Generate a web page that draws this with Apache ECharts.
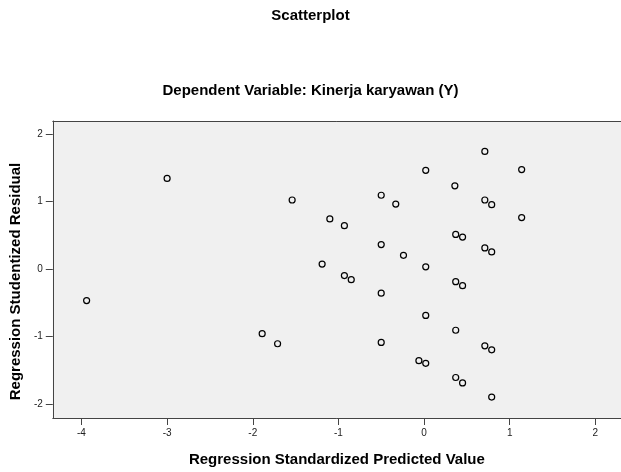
<!DOCTYPE html>
<html>
<head>
<meta charset="utf-8">
<script src="https://cdn.jsdelivr.net/npm/echarts@6/dist/echarts.min.js"></script>
<style>
  html, body { margin: 0; padding: 0; background: #fff; }
  #scatter { width: 621px; height: 472px; }
</style>
</head>
<body>
<div id="scatter"></div>
<script>
// standardized predicted value (x) and studentized residual (y)
const predicted = [
  -3.94, -3.0, -1.54, -1.89, -1.71, -1.10, -0.93, -1.19, -0.93, -0.85,
  -0.50, -0.33, -0.50, -0.24, -0.50, -0.50, 0.02, 0.02, 0.02, -0.06,
  0.02, 0.36, 0.37, 0.45, 0.37, 0.45, 0.37, 0.37, 0.45, 0.71,
  0.71, 0.79, 0.71, 0.79, 0.71, 0.79, 0.79, 1.14, 1.14
];
const residual = [
  -0.47, 1.34, 1.02, -0.96, -1.11, 0.74, 0.64, 0.07, -0.10, -0.16,
  1.09, 0.96, 0.36, 0.20, -0.36, -1.09, 1.46, 0.03, -0.69, -1.36,
  -1.40, 1.23, 0.51, 0.47, -0.19, -0.25, -0.91, -1.61, -1.69, 1.74,
  1.02, 0.95, 0.31, 0.25, -1.14, -1.20, -1.90, 1.47, 0.76
];
const xTicks = [-4, -3, -2, -1, 0, 1, 2];
const yTicks = [-2, -1, 0, 1, 2];

const font = "Liberation Sans";
const boldText = { fontFamily: font, fontSize: 15, fontWeight: "bold", color: "#000" };
const xMin = -4.335, xMax = 2.3;

const option = {
  animation: false,
  title: [
    { text: "Scatterplot", left: "center", top: 3, textStyle: boldText },
    { text: "Dependent Variable: Kinerja karyawan (Y)", left: "center", top: 78, textStyle: boldText },
  ],
  grid: {
    left: 52,
    right: 0,
    top: 121,
    bottom: 49,
    show: true,
    backgroundColor: "#f0f0f0",
    borderWidth: 0,
  },
  xAxis: [
    {
      type: "value",
      min: xMin,
      max: xMax,
      name: "Regression Standardized Predicted Value",
      nameLocation: "middle",
      nameGap: 34,
      nameTextStyle: boldText,
      splitLine: { show: false },
      axisLine: { show: true, onZero: false, lineStyle: { color: "#444" } },
      axisTick: { show: true, length: 7, customValues: xTicks, lineStyle: { color: "#444" } },
      axisLabel: { customValues: xTicks, fontFamily: font, fontSize: 10, color: "#222", margin: 10 },
    },
    {
      // top border of the plot frame
      type: "value",
      position: "top",
      min: xMin,
      max: xMax,
      splitLine: { show: false },
      axisLine: { show: true, onZero: false, lineStyle: { color: "#444" } },
      axisTick: { show: false },
      axisLabel: { show: false },
    },
  ],
  yAxis: {
    type: "value",
    min: -2.21,
    max: 2.19,
    name: "Regression Studentized Residual",
    nameLocation: "middle",
    nameGap: 29,
    nameTextStyle: Object.assign({}, boldText, { padding: [0, 24, 0, 0] }),
    splitLine: { show: false },
    axisLine: { show: true, onZero: false, lineStyle: { color: "#444" } },
    axisTick: { show: true, length: 7, customValues: yTicks, lineStyle: { color: "#444" } },
    axisLabel: { customValues: yTicks, fontFamily: font, fontSize: 10, color: "#222", margin: 10 },
  },
  series: [
    {
      type: "scatter",
      data: predicted.map((x, i) => [x, residual[i]]),
      symbol: "circle",
      symbolSize: 6,
      itemStyle: { color: "#f0f0f0", borderColor: "#000", borderWidth: 1.2, opacity: 1 },
    },
  ],
};

const chartDom = document.getElementById("scatter");
const myChart = echarts.init(chartDom);
myChart.setOption(option);
</script>
</body>
</html>
